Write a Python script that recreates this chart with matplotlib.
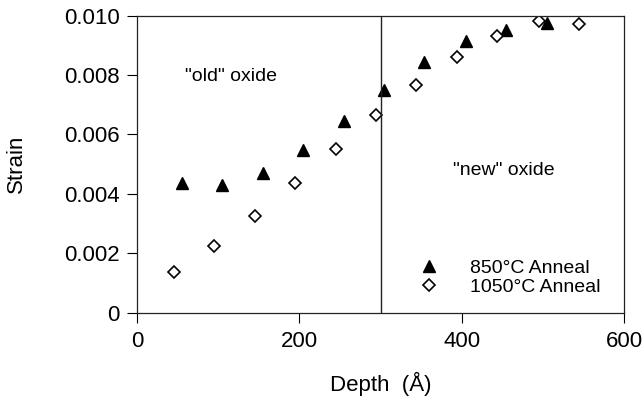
import matplotlib
matplotlib.use("Agg")
import matplotlib.pyplot as plt

plt.rcParams['font.family'] = ['Liberation Sans', 'DejaVu Sans']

depth_850 = [55, 105, 155, 204, 255, 304, 354, 405, 455, 505]
strain_850 = [0.00438, 0.00429, 0.00471, 0.00547, 0.00644, 0.00750, 0.00844, 0.00916, 0.00952, 0.00974]
depth_1050 = [45, 95, 145, 195, 245, 295, 344, 394, 444, 495, 545]
strain_1050 = [0.00137, 0.00225, 0.00326, 0.00438, 0.00551, 0.00664, 0.00768, 0.00860, 0.00932, 0.00981, 0.00972]
xticks = [0, 200, 400, 600]
yticks = [0, 0.002, 0.004, 0.006, 0.008, 0.010]
ytick_labels = ["0", "0.002", "0.004", "0.006", "0.008", "0.010"]

fig = plt.figure(figsize=(6.44, 3.99), dpi=100)
ax = fig.add_axes([0.2127, 0.2163, 0.7564, 0.7444])

ax.plot(depth_850, strain_850, linestyle='none', marker='^', markersize=9,
        color='black', label='850°C Anneal')
ax.plot(depth_1050, strain_1050, linestyle='none', marker='D', markersize=6,
        markerfacecolor='white', markeredgecolor='black', markeredgewidth=1.2,
        label='1050°C Anneal')

ax.axvline(300, color='#222222', linewidth=1.0)

ax.set_xlim(0, 600)
ax.set_ylim(0, 0.010)
ax.set_xticks(xticks)
ax.set_xticklabels([str(t) for t in xticks])
ax.set_yticks(yticks)
ax.set_yticklabels(ytick_labels)
ax.tick_params(direction='out', length=7.5, width=0.8, labelsize=16)
ax.tick_params(axis='x', pad=6)
ax.tick_params(axis='y', pad=5)

for s in ax.spines.values():
    s.set_linewidth(0.9)
    s.set_color('#222222')

ax.set_xlabel('Depth  (Å)', fontsize=16)
ax.set_ylabel('Strain', fontsize=16)
ax.xaxis.set_label_coords(0.5, -0.20)
ax.yaxis.set_label_coords(-0.226, 0.5)

ax.text(116, 0.00795, '"old" oxide', fontsize=14, ha='center', va='center')
ax.text(452, 0.0048, '"new" oxide', fontsize=14, ha='center', va='center')

ax.legend(loc='center left', bbox_to_anchor=(0.58, 0.1185), frameon=False,
          fontsize=14, handlelength=1.0, handletextpad=1.6, labelspacing=0.1,
          borderpad=0, borderaxespad=0)

fig.savefig('out.png', dpi=100)
